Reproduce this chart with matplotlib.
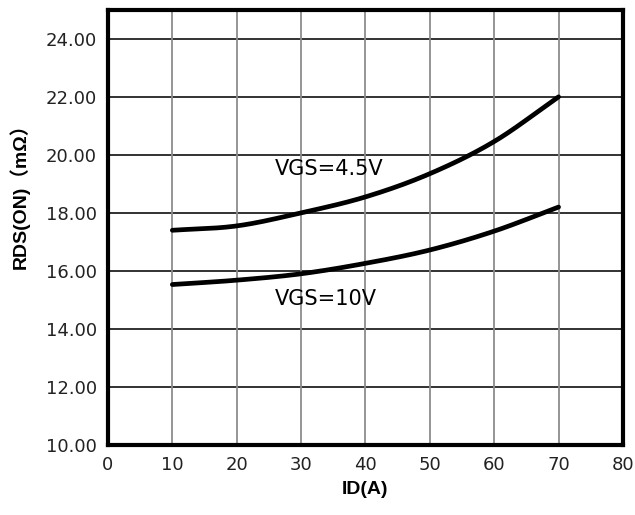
import numpy as np
import matplotlib.pyplot as plt

# drain current (A) and on-resistance (mOhm)
id_a = [10, 20, 30, 40, 50, 60, 70]
rds_45v = [17.40, 17.55, 18.0, 18.55, 19.35, 20.46, 22.0]
rds_10v = [15.53, 15.68, 15.9, 16.26, 16.72, 17.37, 18.2]

x_ticks = [0, 10, 20, 30, 40, 50, 60, 70, 80]
y_ticks = [10, 12, 14, 16, 18, 20, 22, 24]


def smooth(x, y, n=30):
    # catmull-rom spline through the read points
    x = np.asarray(x, float)
    y = np.asarray(y, float)
    px = np.concatenate([[2 * x[0] - x[1]], x, [2 * x[-1] - x[-2]]])
    py = np.concatenate([[2 * y[0] - y[1]], y, [2 * y[-1] - y[-2]]])
    t = np.linspace(0, 1, n)
    outx, outy = [], []
    for i in range(1, len(px) - 2):
        for p, out in ((px, outx), (py, outy)):
            p0, p1, p2, p3 = p[i - 1], p[i], p[i + 1], p[i + 2]
            out.extend(0.5 * (2 * p1 + (-p0 + p2) * t
                              + (2 * p0 - 5 * p1 + 4 * p2 - p3) * t ** 2
                              + (-p0 + 3 * p1 - 3 * p2 + p3) * t ** 3))
    return outx, outy


fig = plt.figure(figsize=(6.35, 5.15), dpi=100)
ax = fig.add_axes([0.170, 0.136, 0.811, 0.845])

for yv in y_ticks[1:]:
    ax.axhline(yv, color='#222222', lw=1.3, zorder=1)
for xv in x_ticks[1:-1]:
    ax.axvline(xv, color='#8c8c8c', lw=1.3, zorder=1)

xs, ys = smooth(id_a, rds_45v)
ax.plot(xs, ys, color='black', lw=3.4, zorder=3, solid_capstyle='round')
xs, ys = smooth(id_a, rds_10v)
ax.plot(xs, ys, color='black', lw=3.4, zorder=3, solid_capstyle='round')

ax.text(26.0, 19.5, 'VGS=4.5V', fontsize=15, va='center', ha='left')
ax.text(26.0, 15.04, 'VGS=10V', fontsize=15, va='center', ha='left')

ax.set_xlim(0, 80)
ax.set_ylim(10, 25)
ax.set_xticks(x_ticks)
ax.set_yticks(y_ticks)
ax.set_yticklabels(['%.2f' % v for v in y_ticks])
ax.tick_params(length=0, labelsize=13, pad=8, colors='#222222')

for s in ax.spines.values():
    s.set_linewidth(3)
    s.set_color('black')

ax.set_xlabel('ID(A)', fontsize=14, fontweight='bold', family='Liberation Sans', labelpad=5)
ax.set_ylabel('RDS(ON)（mΩ）', fontsize=14, fontweight='bold',
              family=['Liberation Sans', 'Noto Sans CJK SC'])
ax.yaxis.set_label_coords(-0.152, 0.582)

fig.savefig('out.png', dpi=100)
